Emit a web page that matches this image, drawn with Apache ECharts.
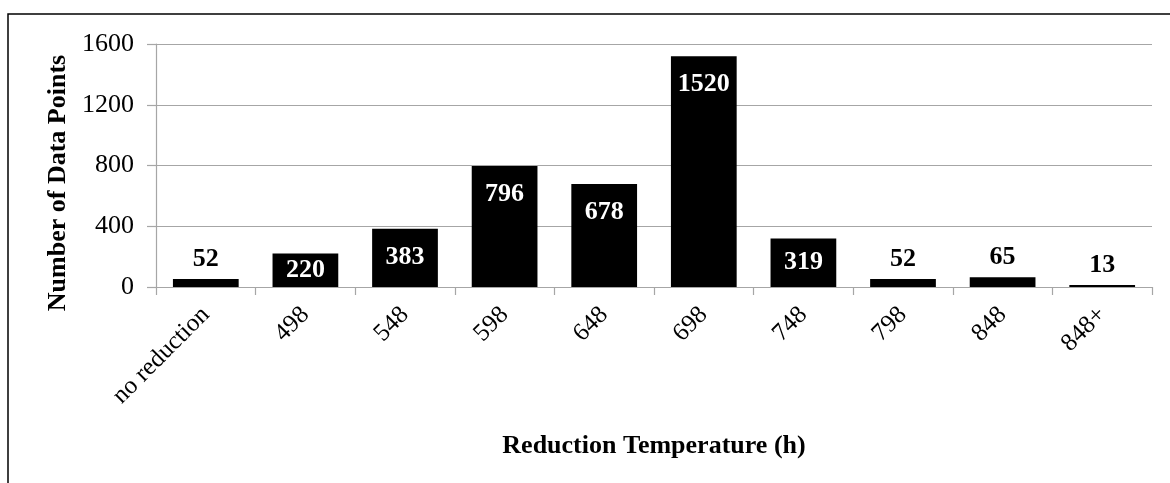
<!DOCTYPE html>
<html>
<head>
<meta charset="utf-8">
<script src="https://cdn.jsdelivr.net/npm/echarts@6/dist/echarts.min.js"></script>
<style>
html,body{margin:0;padding:0;background:#fff;}
#chart{width:1170px;height:483px;}
</style>
</head>
<body>
<div id="chart"></div>
<script>
const categories = ['no reduction','498','548','598','648','698','748','798','848','848+'];
const values = [52, 220, 383, 796, 678, 1520, 319, 52, 65, 13];
const yTicks = [0, 400, 800, 1200, 1600];
const xTitle = 'Reduction Temperature (h)';
const yTitle = 'Number of Data Points';

const FONT = '"Liberation Serif","Times New Roman",serif';

function labelFor(v) {
  if (v < 100) {
    return { show: true, position: 'top', distance: 7, color: '#000' };
  } else if (v < 360) {
    return { show: true, position: 'inside', color: '#fff' };
  }
  return { show: true, position: 'insideTop', distance: 15, color: '#fff' };
}

const chart = echarts.init(document.getElementById('chart'), null, { renderer: 'canvas' });
chart.setOption({
  backgroundColor: '#fff',
  animation: false,
  grid: { left: 156, right: 18, top: 44, bottom: 196, containLabel: false },
  xAxis: {
    type: 'category',
    data: categories,
    boundaryGap: true,
    name: xTitle,
    nameLocation: 'middle',
    nameGap: 146,
    nameTextStyle: { fontFamily: FONT, fontSize: 26, fontWeight: 'bold', color: '#000' },
    axisLine: { show: true, lineStyle: { color: '#a6a6a6', width: 1.2 } },
    axisTick: { show: true, alignWithLabel: false, length: 8, lineStyle: { color: '#a6a6a6', width: 1.2 } },
    axisLabel: { rotate: 45, margin: 24, fontFamily: FONT, fontSize: 25, color: '#000', interval: 0 },
    splitLine: { show: false }
  },
  yAxis: {
    type: 'value',
    min: yTicks[0],
    max: yTicks[yTicks.length - 1],
    interval: yTicks[1] - yTicks[0],
    axisLine: { show: true, lineStyle: { color: '#a6a6a6', width: 1.2 } },
    axisTick: { show: true, length: 9, lineStyle: { color: '#a6a6a6', width: 1.2 } },
    axisLabel: { margin: 22, fontFamily: FONT, fontSize: 26, color: '#000', formatter: v => String(v) },
    splitLine: { show: true, lineStyle: { color: '#a6a6a6', width: 1.2 } }
  },
  series: [{
    type: 'bar',
    barCategoryGap: '34%',
    data: values.map(v => ({ value: v, label: labelFor(v) })),
    itemStyle: { color: '#000' },
    label: { fontFamily: FONT, fontSize: 26, fontWeight: 'bold' }
  }],
  graphic: [
    {
      type: 'rect',
      shape: { x: 8, y: 14, width: 1200, height: 600 },
      style: { fill: 'none', stroke: '#000', lineWidth: 1.5 },
      silent: true
    },
    {
      type: 'text',
      x: 58,
      y: 183,
      rotation: Math.PI / 2,
      style: {
        text: yTitle,
        fontFamily: FONT,
        fontSize: 26,
        fontWeight: 'bold',
        fill: '#000',
        textAlign: 'center',
        textVerticalAlign: 'middle'
      }
    }
  ]
});
</script>
</body>
</html>
